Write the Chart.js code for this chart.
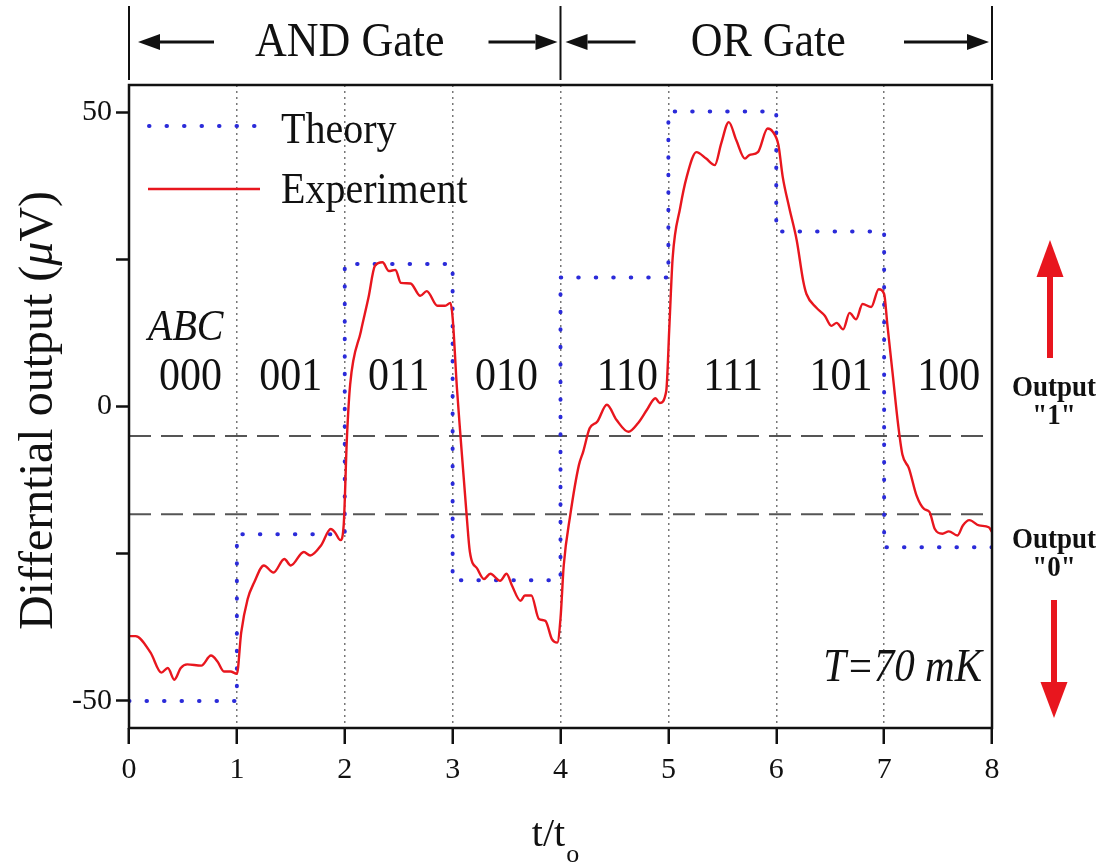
<!DOCTYPE html>
<html>
<head>
<meta charset="utf-8">
<script src="https://cdn.jsdelivr.net/npm/chart.js@4"></script>
<style>
  html, body { margin: 0; padding: 0; background: #fff; }
  #wrap { width: 1108px; height: 865px; }
</style>
</head>
<body>
<div id="wrap"><canvas id="chart"></canvas></div>
<script>
const SERIF = '"Liberation Serif", "Times New Roman", serif';

// data
const gateLabels = ["AND Gate", "OR Gate"];
const inputLabels = ["000", "001", "011", "010", "110", "111", "101", "100"];
const theoryLevels = [-50, -21.7, 24.2, -29.5, 21.9, 50.1, 29.7, -23.9];
const thresholds = [-5, -18.3];
const xTicks = [0, 1, 2, 3, 4, 5, 6, 7, 8];
const yTicks = [-50, -25, 0, 25, 50];
const yLabelled = [-50, 0, 50];

const expT = [0, 0.06, 0.2, 0.3, 0.36, 0.42, 0.48, 0.54, 0.67, 0.76, 0.82, 0.88, 0.94, 1.0,
  1.04, 1.10, 1.16, 1.25, 1.34, 1.44, 1.50, 1.62, 1.68, 1.78, 1.87, 1.91, 1.96, 1.99,
  2.02, 2.05, 2.15, 2.22, 2.28, 2.35, 2.41, 2.47, 2.52, 2.61, 2.70, 2.76, 2.86, 2.93, 2.98,
  3.0, 3.04, 3.07, 3.13, 3.16, 3.23, 3.29, 3.35, 3.44, 3.50, 3.55, 3.63, 3.67, 3.73, 3.80, 3.86, 3.92, 3.97,
  4.0, 4.03, 4.09, 4.17, 4.21, 4.27, 4.34, 4.43, 4.52, 4.63, 4.72, 4.80, 4.88, 4.92, 4.98,
  5.01, 5.04, 5.11, 5.17, 5.26, 5.35, 5.43, 5.49, 5.56, 5.63, 5.71, 5.75, 5.83, 5.92, 5.97,
  6.02, 6.06, 6.12, 6.19, 6.25, 6.28, 6.37, 6.45, 6.51, 6.56, 6.62, 6.68, 6.74, 6.80, 6.88, 6.95,
  7.0, 7.03, 7.08, 7.13, 7.17, 7.23, 7.30, 7.37, 7.42, 7.47, 7.54, 7.60, 7.68, 7.73, 7.79, 7.88, 7.97, 8.0];
const expV = [-39, -39, -41.8, -45.2, -44.4, -46.4, -44.4, -43.8, -44, -42.3, -43.3, -45, -45, -45.4,
  -38.4, -32.7, -29.9, -27, -28.2, -25.9, -27, -24.7, -25.3, -23.6, -20.8, -21.4, -22.7, -20.2,
  -5.4, 3.7, 12.8, 18.5, 23.9, 24.5, 23, 23.2, 21, 20.9, 18.8, 19.6, 17.1, 17.1, 17.6,
  15.1, 3.1, -4.3, -18.5, -24.7, -27.6, -29.3, -28.4, -29.6, -28.4, -30.4, -33, -32.1, -32.1, -36.1, -36.4, -39.5, -40.1,
  -36, -27, -18.5, -10, -7.7, -3.7, -2.6, 0.3, -2.3, -4.3, -2.8, -0.6, 1.4, 0.6, 2.6,
  13.9, 25.3, 33.8, 39, 43.2, 42.1, 41, 44.7, 48.3, 45.2, 42.1, 42.7, 43.2, 47.2, 46.6,
  44.4, 39, 33.8, 28.2, 21.3, 19.1, 16.8, 15.4, 13.7, 14.2, 13.1, 15.9, 14.8, 17.4, 16.9, 19.9,
  19.1, 13.9, 5.4, -3.1, -8.2, -10.5, -15.1, -17.4, -17.9, -20.8, -21.6, -21.2, -21.9, -20.2, -19.3, -20.2, -20.5, -21.3];

// where the state labels sit (t units)
const inputLabelX = [0.57, 1.5, 2.5, 3.5, 4.62, 5.6, 6.6, 7.6];

const BLUE = "#2b2bd9";
const RED = "#e8161e";

function theoryPoints() {
  const pts = theoryLevels.map((v, i) => ({ x: i, y: v }));
  pts.push({ x: theoryLevels.length, y: theoryLevels[theoryLevels.length - 1] });
  return pts;
}

function txt(ctx, s, x, y, font, align) {
  ctx.save();
  ctx.font = font;
  ctx.fillStyle = "#111";
  ctx.textAlign = align || "center";
  ctx.textBaseline = "alphabetic";
  ctx.translate(x, y);
  ctx.scale(1, 1.12);
  ctx.fillText(s, 0, 0);
  ctx.restore();
}

function arrow(ctx, x1, y1, x2, y2, lw, headLen, headW, color) {
  const a = Math.atan2(y2 - y1, x2 - x1);
  const bx = x2 - Math.cos(a) * headLen, by = y2 - Math.sin(a) * headLen;
  ctx.save();
  ctx.strokeStyle = color;
  ctx.fillStyle = color;
  ctx.lineWidth = lw;
  ctx.beginPath();
  ctx.moveTo(x1, y1);
  ctx.lineTo(bx, by);
  ctx.stroke();
  ctx.beginPath();
  ctx.moveTo(x2, y2);
  ctx.lineTo(bx + Math.sin(a) * headW / 2, by - Math.cos(a) * headW / 2);
  ctx.lineTo(bx - Math.sin(a) * headW / 2, by + Math.cos(a) * headW / 2);
  ctx.closePath();
  ctx.fill();
  ctx.restore();
}

const decor = {
  id: "decor",
  afterDraw(chart) {
    const ctx = chart.ctx;
    const area = chart.chartArea;
    const xs = chart.scales.x;
    const p0 = xs.getPixelForValue(0), p4 = xs.getPixelForValue(4), p8 = xs.getPixelForValue(8);

    // frame
    ctx.save();
    ctx.strokeStyle = "#111";
    ctx.lineWidth = 2.5;
    ctx.strokeRect(area.left, area.top, area.right - area.left, area.bottom - area.top);
    ctx.restore();

    // header: gate brackets
    ctx.save();
    ctx.strokeStyle = "#111";
    ctx.lineWidth = 2;
    [p0, p4, p8].forEach(px => {
      ctx.beginPath();
      ctx.moveTo(px, 6);
      ctx.lineTo(px, 80);
      ctx.stroke();
    });
    ctx.restore();
    arrow(ctx, p0 + 85, 42, p0 + 9, 42, 3, 22, 16, "#111");
    arrow(ctx, p4 - 72, 42, p4 - 3, 42, 3, 22, 16, "#111");
    arrow(ctx, p4 + 75, 42, p4 + 5, 42, 3, 22, 16, "#111");
    arrow(ctx, p8 - 88, 42, p8 - 3, 42, 3, 22, 16, "#111");
    txt(ctx, gateLabels[0], (p0 + p4) / 2 + 5, 56, "44px " + SERIF);
    txt(ctx, gateLabels[1], (p4 + p8) / 2 - 8, 56, "44px " + SERIF);

    // legend
    ctx.save();
    ctx.lineCap = "round";
    ctx.strokeStyle = BLUE;
    ctx.lineWidth = 4;
    ctx.setLineDash([0.5, 17]);
    ctx.beginPath();
    ctx.moveTo(area.left + 20, 126);
    ctx.lineTo(area.left + 130, 126);
    ctx.stroke();
    ctx.setLineDash([]);
    ctx.lineCap = "butt";
    ctx.strokeStyle = RED;
    ctx.lineWidth = 2.5;
    ctx.beginPath();
    ctx.moveTo(area.left + 19, 189);
    ctx.lineTo(area.left + 131, 189);
    ctx.stroke();
    ctx.restore();
    txt(ctx, "Theory", area.left + 152, 143, "40px " + SERIF, "left");
    txt(ctx, "Experiment", area.left + 152, 203, "40px " + SERIF, "left");

    // state labels
    txt(ctx, "ABC", area.left + 19, 340, "italic 40px " + SERIF, "left");
    inputLabels.forEach((s, i) => {
      txt(ctx, s, xs.getPixelForValue(inputLabelX[i]), 390, "42px " + SERIF);
    });
    txt(ctx, "T=70 mK", area.right - 10, 681, "italic 41px " + SERIF, "right");

    // right side output markers
    const cx = area.right + 58;
    arrow(ctx, cx, 358, cx, 240, 6, 37, 27, RED);
    arrow(ctx, cx + 4, 600, cx + 4, 718, 6, 36, 27, RED);
    txt(ctx, "Output", cx + 4, 396, "bold 27px " + SERIF);
    txt(ctx, "\"1\"", cx + 4, 424, "bold 27px " + SERIF);
    txt(ctx, "Output", cx + 4, 548, "bold 27px " + SERIF);
    txt(ctx, "\"0\"", cx + 4, 576, "bold 27px " + SERIF);

    // y title with italic mu
    ctx.save();
    ctx.fillStyle = "#111";
    ctx.translate(52, (area.top + area.bottom) / 2 + 4);
    ctx.rotate(-Math.PI / 2);
    ctx.textBaseline = "alphabetic";
    ctx.textAlign = "left";
    const parts = [["Differntial output (", "48px " + SERIF], ["\u03bc", "italic 48px " + SERIF], ["V)", "48px " + SERIF]];
    let total = 0;
    parts.forEach(p => { ctx.font = p[1]; total += ctx.measureText(p[0]).width; });
    let pos = -total / 2;
    parts.forEach(p => { ctx.font = p[1]; ctx.fillText(p[0], pos, 0); pos += ctx.measureText(p[0]).width; });
    ctx.restore();

    // x title t/t_o
    ctx.save();
    ctx.fillStyle = "#111";
    ctx.font = "40px " + SERIF;
    const w1 = ctx.measureText("t/t").width;
    const mid = (area.left + area.right) / 2 - 12;
    ctx.textAlign = "left";
    ctx.fillText("t/t", mid - w1 / 2, 846);
    ctx.font = "26px " + SERIF;
    ctx.fillText("o", mid + w1 / 2 + 1, 862);
    ctx.restore();
  }
};

new Chart(document.getElementById("chart"), {
  type: "line",
  data: {
    datasets: [
      {
        label: "Experiment",
        data: expT.map((t, i) => ({ x: t, y: expV[i] })),
        borderColor: RED,
        borderWidth: 2.4,
        pointRadius: 0,
        cubicInterpolationMode: "monotone",
        order: 1
      },
      {
        label: "Theory",
        data: theoryPoints(),
        stepped: "before",
        borderColor: BLUE,
        borderWidth: 4,
        borderDash: [0.5, 17],
        borderCapStyle: "round",
        pointRadius: 0,
        order: 2
      },
      ...thresholds.map(v => ({
        label: "threshold " + v,
        data: [{ x: xTicks[0], y: v }, { x: xTicks[xTicks.length - 1], y: v }],
        borderColor: "#555",
        borderWidth: 2,
        borderDash: [22, 10],
        pointRadius: 0,
        order: 3
      }))
    ]
  },
  options: {
    responsive: true,
    maintainAspectRatio: false,
    animation: false,
    layout: { padding: { left: 0, right: 116, top: 85, bottom: 0 } },
    plugins: { legend: { display: false }, tooltip: { enabled: false } },
    scales: {
      x: {
        type: "linear",
        min: xTicks[0],
        max: xTicks[xTicks.length - 1],
        afterBuildTicks: s => { s.ticks = xTicks.map(v => ({ value: v })); },
        afterFit: s => { s.height = 137; },
        ticks: { font: { family: SERIF, size: 30 }, color: "#111", padding: 8 },
        grid: {
          color: c => (c.tick && (c.tick.value === 0 || c.tick.value === 8)) ? "rgba(0,0,0,0)" : "#777",
          lineWidth: 1.5,
          tickColor: "#111",
          tickLength: 16,
          tickWidth: 2.5
        },
        border: { display: false, dash: [2, 4] }
      },
      y: {
        min: -54.6,
        max: 54.6,
        afterBuildTicks: s => { s.ticks = yTicks.map(v => ({ value: v })); },
        afterFit: s => { s.width = 129; },
        ticks: {
          font: { family: SERIF, size: 30 },
          color: "#111",
          padding: 4,
          callback: v => yLabelled.includes(v) ? String(v) : ""
        },
        grid: {
          drawOnChartArea: false,
          tickColor: "#111",
          tickLength: 13,
          tickWidth: 2.5
        },
        border: { display: false }
      }
    }
  },
  plugins: [decor]
});
</script>
</body>
</html>
